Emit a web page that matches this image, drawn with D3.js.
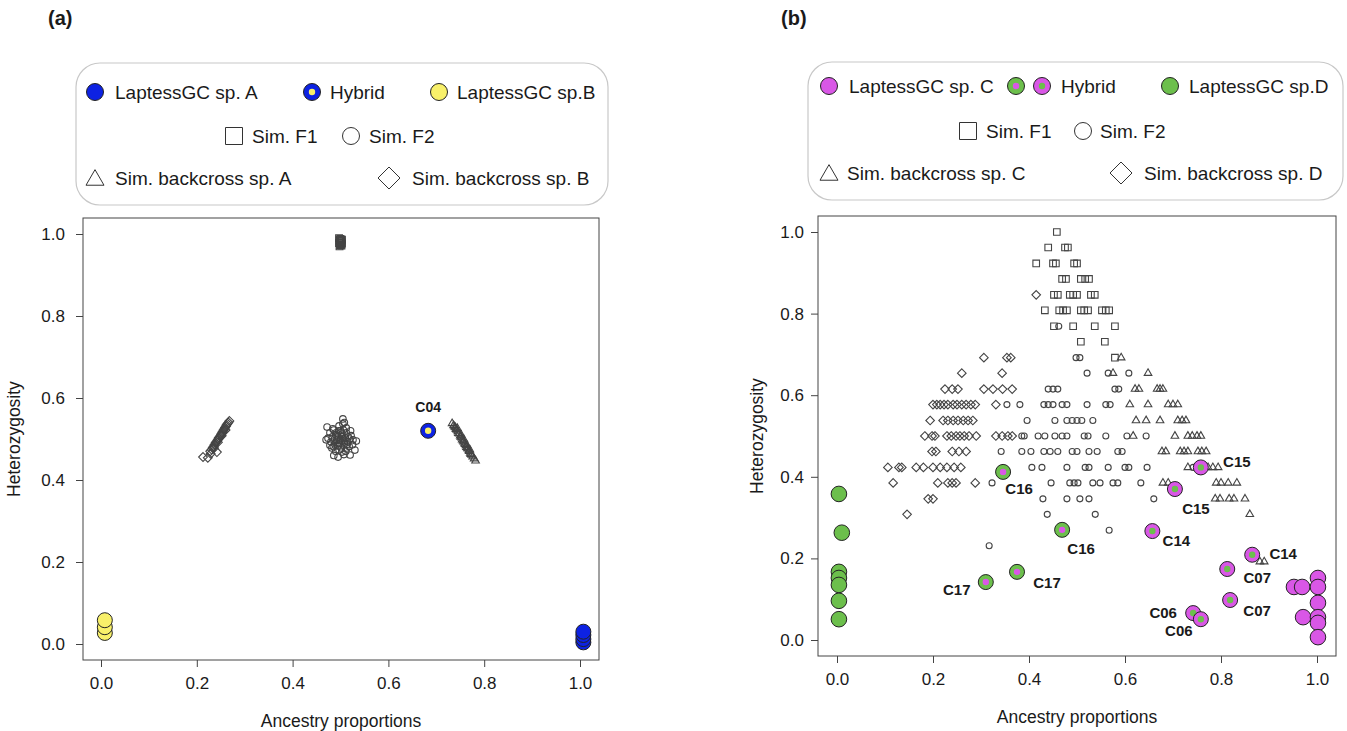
<!DOCTYPE html>
<html>
<head>
<meta charset="utf-8">
<script src="https://cdn.jsdelivr.net/npm/d3@7"></script>
<style>
body { margin: 0; background: #fff; }
text { font-family: "Liberation Sans", Arial, Helvetica, sans-serif; fill: #1a1a1a; }
</style>
</head>
<body>
<div id="chart"></div>
<script>
// ---------- data ----------
var tickValues = [0, 0.2, 0.4, 0.6, 0.8, 1.0];
var xTitle = "Ancestry proportions";
var yTitle = "Heterozygosity";

// panel (a): [ancestry, heterozygosity]
var aSpA = [[1.007, 0.004], [1.007, 0.012], [1.007, 0.022], [1.007, 0.030]];
var aSpB = [[0.008, 0.027], [0.008, 0.041], [0.008, 0.058]];
var aHybrid = [{id: "C04", x: 0.683, y: 0.520}];
var aF1 = [[0.497, 0.990], [0.500, 0.988], [0.503, 0.986], [0.498, 0.984], [0.502, 0.982], [0.500, 0.980],
    [0.497, 0.978], [0.503, 0.977], [0.501, 0.975], [0.499, 0.973], [0.502, 0.972], [0.498, 0.970],
    [0.500, 0.985], [0.501, 0.979], [0.499, 0.987], [0.501, 0.983]];
var aF2 = [[0.472, 0.529], [0.505, 0.549], [0.505, 0.537], [0.482, 0.478], [0.495, 0.456], [0.520, 0.461],
    [0.530, 0.473], [0.526, 0.498], [0.474, 0.502], [0.486, 0.522], [0.490, 0.510], [0.495, 0.505],
    [0.500, 0.500], [0.505, 0.495], [0.510, 0.503], [0.498, 0.490], [0.492, 0.497], [0.503, 0.512],
    [0.508, 0.488], [0.512, 0.515], [0.488, 0.488], [0.515, 0.493], [0.496, 0.520], [0.483, 0.505],
    [0.518, 0.482], [0.502, 0.478], [0.490, 0.470], [0.511, 0.470], [0.522, 0.508], [0.480, 0.493],
    [0.497, 0.532], [0.512, 0.527], [0.486, 0.460], [0.507, 0.462], [0.525, 0.486], [0.478, 0.515],
    [0.494, 0.483], [0.516, 0.505], [0.500, 0.520], [0.533, 0.495], [0.470, 0.498], [0.508, 0.540],
    [0.493, 0.508], [0.499, 0.496], [0.504, 0.506], [0.488, 0.500], [0.509, 0.497], [0.496, 0.488],
    [0.501, 0.515], [0.514, 0.487], [0.491, 0.515], [0.485, 0.482], [0.506, 0.522], [0.519, 0.500],
    [0.497, 0.474], [0.513, 0.478], [0.484, 0.525], [0.521, 0.520], [0.478, 0.485], [0.503, 0.468]];
var aBcA = [[0.733, 0.538], [0.736, 0.533], [0.738, 0.530], [0.740, 0.528], [0.741, 0.524], [0.743, 0.522],
    [0.745, 0.518], [0.746, 0.514], [0.748, 0.513], [0.750, 0.508], [0.751, 0.505], [0.753, 0.503],
    [0.754, 0.498], [0.756, 0.496], [0.757, 0.493], [0.759, 0.490], [0.760, 0.487], [0.762, 0.484],
    [0.763, 0.480], [0.765, 0.478], [0.766, 0.476], [0.768, 0.472], [0.769, 0.470], [0.771, 0.466],
    [0.772, 0.463], [0.774, 0.461], [0.776, 0.457], [0.779, 0.452], [0.782, 0.447], [0.744, 0.526],
    [0.752, 0.510], [0.758, 0.498], [0.764, 0.485], [0.770, 0.474]];
var aBcB = [[0.213, 0.456], [0.223, 0.454], [0.242, 0.468], [0.228, 0.470], [0.231, 0.474], [0.233, 0.478],
    [0.235, 0.482], [0.237, 0.486], [0.239, 0.490], [0.241, 0.493], [0.243, 0.497], [0.245, 0.500],
    [0.246, 0.503], [0.248, 0.506], [0.250, 0.509], [0.251, 0.512], [0.253, 0.515], [0.254, 0.518],
    [0.256, 0.522], [0.258, 0.525], [0.259, 0.528], [0.261, 0.531], [0.262, 0.534], [0.264, 0.537],
    [0.266, 0.540], [0.268, 0.544], [0.236, 0.478], [0.244, 0.492], [0.252, 0.508], [0.260, 0.522],
    [0.229, 0.464]];

// panel (b)
var bSpC = [[0.952, 0.130], [0.969, 0.130], [1.002, 0.152], [1.002, 0.130], [1.002, 0.091],
    [0.971, 0.056], [1.002, 0.056], [1.002, 0.042], [1.002, 0.007]];
var bSpD = [[0.004, 0.358], [0.010, 0.263], [0.004, 0.167], [0.004, 0.152], [0.004, 0.135],
    [0.004, 0.096], [0.004, 0.051]];
// outer = parental colour of the ring
var bHybrid = [
    {id: "C16", x: 0.346, y: 0.412, outer: "D"},
    {id: "C16", x: 0.469, y: 0.270, outer: "D"},
    {id: "C17", x: 0.310, y: 0.142, outer: "D"},
    {id: "C17", x: 0.375, y: 0.167, outer: "D"},
    {id: "C15", x: 0.758, y: 0.423, outer: "C"},
    {id: "C15", x: 0.704, y: 0.370, outer: "C"},
    {id: "C14", x: 0.657, y: 0.267, outer: "C"},
    {id: "C14", x: 0.865, y: 0.209, outer: "C"},
    {id: "C07", x: 0.813, y: 0.174, outer: "C"},
    {id: "C07", x: 0.819, y: 0.098, outer: "C"},
    {id: "C06", x: 0.742, y: 0.066, outer: "C"},
    {id: "C06", x: 0.758, y: 0.051, outer: "C"}
];
var bLabelOffset = [[16, 17], [19, 19], [-29, 8], [30, 11], [36, -6], [21, 20],
    [24, 10], [31, -1], [30, 9], [27, 11], [-30, 0], [-22, 11]];

var bF1 = [[0.458, 1.000],
    [0.440, 0.962], [0.475, 0.962], [0.481, 0.962],
    [0.415, 0.923], [0.450, 0.923], [0.456, 0.923], [0.494, 0.923], [0.500, 0.923],
    [0.469, 0.885], [0.477, 0.885], [0.508, 0.885], [0.517, 0.885], [0.525, 0.885],
    [0.452, 0.846], [0.460, 0.846], [0.485, 0.846], [0.492, 0.846], [0.500, 0.846], [0.529, 0.846], [0.537, 0.846],
    [0.433, 0.808], [0.463, 0.808], [0.471, 0.808], [0.479, 0.808], [0.508, 0.808], [0.515, 0.808], [0.523, 0.808],
    [0.552, 0.808], [0.560, 0.808], [0.567, 0.808],
    [0.452, 0.769], [0.492, 0.769], [0.537, 0.769], [0.579, 0.769],
    [0.508, 0.731], [0.558, 0.731],
    [0.579, 0.692]];
var bF2 = [[0.462, 0.769],
    [0.498, 0.692], [0.506, 0.692],
    [0.521, 0.654], [0.565, 0.654], [0.608, 0.654],
    [0.440, 0.615], [0.450, 0.615], [0.460, 0.615], [0.579, 0.615], [0.587, 0.615],
    [0.354, 0.577], [0.381, 0.577], [0.431, 0.577], [0.440, 0.577], [0.450, 0.577], [0.469, 0.577], [0.479, 0.577],
    [0.521, 0.577], [0.560, 0.577], [0.569, 0.577],
    [0.396, 0.538], [0.454, 0.538], [0.479, 0.538], [0.490, 0.538], [0.500, 0.538], [0.510, 0.538], [0.533, 0.538],
    [0.385, 0.500], [0.390, 0.500], [0.419, 0.500], [0.433, 0.500], [0.454, 0.500], [0.469, 0.500], [0.479, 0.500],
    [0.515, 0.500], [0.523, 0.500], [0.560, 0.500], [0.604, 0.500], [0.644, 0.500],
    [0.342, 0.462], [0.385, 0.462], [0.404, 0.462], [0.431, 0.462], [0.444, 0.462], [0.460, 0.462], [0.490, 0.462],
    [0.500, 0.462], [0.525, 0.462], [0.542, 0.462], [0.585, 0.462], [0.594, 0.462],
    [0.406, 0.423], [0.427, 0.423], [0.479, 0.423], [0.517, 0.423], [0.525, 0.423], [0.565, 0.423], [0.600, 0.423],
    [0.608, 0.423], [0.646, 0.423], [0.742, 0.423],
    [0.323, 0.385], [0.446, 0.385], [0.485, 0.385], [0.494, 0.385], [0.502, 0.385], [0.533, 0.385], [0.548, 0.385],
    [0.575, 0.385], [0.585, 0.385], [0.633, 0.385],
    [0.429, 0.346], [0.479, 0.346], [0.506, 0.346], [0.525, 0.346], [0.660, 0.346],
    [0.438, 0.308], [0.538, 0.308],
    [0.567, 0.269],
    [0.317, 0.231]];
var bBcC = [[0.592, 0.692],
    [0.575, 0.654], [0.648, 0.654],
    [0.621, 0.615], [0.629, 0.615], [0.667, 0.615], [0.673, 0.615], [0.679, 0.615],
    [0.610, 0.577], [0.648, 0.577], [0.690, 0.577], [0.700, 0.577], [0.710, 0.577],
    [0.623, 0.538], [0.644, 0.538], [0.673, 0.538], [0.710, 0.538], [0.719, 0.538], [0.727, 0.538],
    [0.617, 0.500], [0.704, 0.500], [0.731, 0.500], [0.740, 0.500], [0.750, 0.500], [0.758, 0.500],
    [0.677, 0.462], [0.685, 0.462], [0.715, 0.462], [0.723, 0.462], [0.731, 0.462], [0.752, 0.462], [0.760, 0.462],
    [0.769, 0.462],
    [0.731, 0.423], [0.773, 0.423], [0.783, 0.423], [0.794, 0.423],
    [0.679, 0.385], [0.690, 0.385], [0.790, 0.385], [0.800, 0.385], [0.815, 0.385], [0.833, 0.385],
    [0.788, 0.346], [0.798, 0.346], [0.817, 0.346], [0.827, 0.346], [0.850, 0.346],
    [0.860, 0.308],
    [0.881, 0.192], [0.890, 0.192]];
var bBcD = [[0.415, 0.846],
    [0.306, 0.692], [0.354, 0.692], [0.362, 0.692],
    [0.260, 0.654], [0.344, 0.654],
    [0.225, 0.615], [0.240, 0.615], [0.252, 0.615], [0.306, 0.615], [0.325, 0.615], [0.345, 0.615], [0.365, 0.615],
    [0.200, 0.577], [0.208, 0.577], [0.215, 0.577], [0.223, 0.577], [0.231, 0.577], [0.242, 0.577], [0.250, 0.577],
    [0.260, 0.577], [0.269, 0.577], [0.279, 0.577], [0.288, 0.577], [0.331, 0.577],
    [0.194, 0.538], [0.221, 0.538], [0.231, 0.538], [0.242, 0.538], [0.252, 0.538], [0.263, 0.538], [0.273, 0.538],
    [0.283, 0.538],
    [0.183, 0.500], [0.198, 0.500], [0.204, 0.500], [0.229, 0.500], [0.238, 0.500], [0.248, 0.500], [0.256, 0.500],
    [0.265, 0.500], [0.275, 0.500], [0.290, 0.500], [0.331, 0.500], [0.344, 0.500], [0.356, 0.500], [0.365, 0.500],
    [0.198, 0.462], [0.206, 0.462], [0.240, 0.462], [0.254, 0.462], [0.269, 0.462],
    [0.106, 0.423], [0.129, 0.423], [0.135, 0.423], [0.165, 0.423], [0.180, 0.423], [0.200, 0.423], [0.215, 0.423],
    [0.229, 0.423], [0.244, 0.423], [0.258, 0.423],
    [0.117, 0.385], [0.210, 0.385], [0.231, 0.385], [0.240, 0.385], [0.248, 0.385], [0.288, 0.385],
    [0.190, 0.346], [0.200, 0.346],
    [0.146, 0.308]];

// ---------- colours ----------
var blue = "#0d22e3", yellow = "#f8f06a", magenta = "#d957e6", green = "#6cbf4c";
var simStroke = "#444";

var svg = d3.select("#chart").append("svg").attr("width", 1347).attr("height", 731);

// R-like symbols (pch 0, 2, 5) as paths centred on 0,0
function shapePath(shape, s) {
    if (shape === "square") return "M" + (-s) + "," + (-s) + "h" + (2 * s) + "v" + (2 * s) + "h" + (-2 * s) + "Z";
    if (shape === "triangle") return "M0," + (-1.15 * s) + "L" + s + "," + (0.58 * s) + "L" + (-s) + "," + (0.58 * s) + "Z";
    return "M0," + (-s) + "L" + s + ",0L0," + s + "L" + (-s) + ",0Z";
}

// frame, axes and titles for one panel
function makePanel(box, xRange, yRange, yLabPad, yTitleX) {
    var x = d3.scaleLinear().domain([0, 1]).range(xRange);
    var y = d3.scaleLinear().domain([0, 1]).range(yRange);
    var g = svg.append("g");

    g.append("rect").attr("x", box.left).attr("y", box.top).attr("width", box.right - box.left)
        .attr("height", box.bottom - box.top).attr("fill", "none").attr("stroke", "#444").attr("stroke-width", 1);

    var xAxis = d3.axisBottom(x).tickValues(tickValues).tickFormat(d3.format(".1f")).tickSize(7).tickPadding(10);
    g.append("g").attr("transform", "translate(0," + box.bottom + ")").call(xAxis)
        .call(function (a) { a.select(".domain").remove(); });
    var yAxis = d3.axisLeft(y).tickValues(tickValues).tickFormat(d3.format(".1f")).tickSize(7).tickPadding(yLabPad);
    g.append("g").attr("transform", "translate(" + box.left + ",0)").call(yAxis)
        .call(function (a) { a.select(".domain").remove(); });
    g.selectAll(".tick line").attr("stroke", "#444");
    g.selectAll(".tick text").attr("font-size", 17).attr("fill", "#222")
        .attr("font-family", "'Liberation Sans', Arial, sans-serif");

    g.append("text").attr("x", (box.left + box.right) / 2).attr("y", box.bottom + 67)
        .attr("text-anchor", "middle").attr("font-size", 17.5).text(xTitle);
    // centred on yTitleX (dy shifts the baseline half a line)
    g.append("text").attr("transform", "translate(" + yTitleX + "," + ((box.top + box.bottom) / 2) + ") rotate(-90)")
        .attr("text-anchor", "middle").attr("dy", "0.35em").attr("font-size", 17.5).text(yTitle);
    return {x: x, y: y, g: g};
}

function drawSim(p, data, shape, s) {
    if (shape === "circle") {
        p.g.selectAll(null).data(data).enter().append("circle")
            .attr("cx", function (d) { return p.x(d[0]); }).attr("cy", function (d) { return p.y(d[1]); })
            .attr("r", s).attr("fill", "none").attr("stroke", simStroke).attr("stroke-width", 1.1);
    } else {
        p.g.selectAll(null).data(data).enter().append("path")
            .attr("d", shapePath(shape, s))
            .attr("transform", function (d) { return "translate(" + p.x(d[0]) + "," + p.y(d[1]) + ")"; })
            .attr("fill", "none").attr("stroke", simStroke).attr("stroke-width", 1.1);
    }
}

function drawDots(p, data, fill, r) {
    p.g.selectAll(null).data(data).enter().append("circle")
        .attr("cx", function (d) { return p.x(d[0]); }).attr("cy", function (d) { return p.y(d[1]); })
        .attr("r", r).attr("fill", fill).attr("stroke", "#222").attr("stroke-width", 1);
}

// legend: rounded box plus rows of {shape, fill, inner, x, text}
function drawLegend(box, rows) {
    svg.append("rect").attr("x", box.x).attr("y", box.y).attr("width", box.w).attr("height", box.h)
        .attr("rx", 24).attr("fill", "#fff").attr("stroke", "#c8c8c8").attr("stroke-width", 1.2);
    rows.forEach(function (row) {
        row.items.forEach(function (it) {
            if (it.shape === "dot") {
                svg.append("circle").attr("cx", it.x).attr("cy", row.y).attr("r", 8.5)
                    .attr("fill", it.fill).attr("stroke", "#222");
                if (it.inner) svg.append("circle").attr("cx", it.x).attr("cy", row.y).attr("r", 3.2).attr("fill", it.inner);
            } else if (it.shape === "circle") {
                svg.append("circle").attr("cx", it.x).attr("cy", row.y).attr("r", 8.5).attr("fill", "none").attr("stroke", "#333");
            } else if (it.shape) {
                var s = it.shape === "diamond" ? 11 : (it.shape === "triangle" ? 9 : 8.5);
                svg.append("path").attr("d", shapePath(it.shape, s)).attr("transform", "translate(" + it.x + "," + (row.y + (it.shape === "triangle" ? 2 : 0)) + ")")
                    .attr("fill", "none").attr("stroke", "#333");
            }
            if (it.text) svg.append("text").attr("x", it.tx).attr("y", row.y).attr("dy", "0.36em")
                .attr("font-size", 19).text(it.text);
        });
    });
}

// ---------- panel (a) ----------
svg.append("text").attr("x", 48).attr("y", 25).attr("font-size", 20).attr("font-weight", "bold").text("(a)");
drawLegend({x: 76, y: 63, w: 532, h: 142}, [
    {y: 92, items: [{shape: "dot", fill: blue, x: 95, tx: 115, text: "LaptessGC sp. A"},
        {shape: "dot", fill: blue, inner: yellow, x: 312, tx: 330, text: "Hybrid"},
        {shape: "dot", fill: yellow, x: 439, tx: 457, text: "LaptessGC sp.B"}]},
    {y: 136, items: [{shape: "square", x: 234, tx: 252, text: "Sim. F1"},
        {shape: "circle", x: 351, tx: 369, text: "Sim. F2"}]},
    {y: 178, items: [{shape: "triangle", x: 95, tx: 115, text: "Sim. backcross sp. A"},
        {shape: "diamond", x: 389, tx: 412, text: "Sim. backcross sp. B"}]}
]);

var pa = makePanel({left: 83, right: 599, top: 218, bottom: 660}, [101, 580], [644, 234], 11, 14);
drawSim(pa, aF2, "circle", 3.3);
drawSim(pa, aF1, "square", 3.4);
drawSim(pa, aBcA, "triangle", 3.8);
drawSim(pa, aBcB, "diamond", 4.4);
drawDots(pa, aSpB, yellow, 7.5);
drawDots(pa, aSpA, blue, 7.5);
pa.g.selectAll(null).data(aHybrid).enter().append("circle")
    .attr("cx", function (d) { return pa.x(d.x); }).attr("cy", function (d) { return pa.y(d.y); })
    .attr("r", 7.5).attr("fill", blue).attr("stroke", "#222");
pa.g.selectAll(null).data(aHybrid).enter().append("circle")
    .attr("cx", function (d) { return pa.x(d.x); }).attr("cy", function (d) { return pa.y(d.y); })
    .attr("r", 3.2).attr("fill", yellow);
pa.g.selectAll(null).data(aHybrid).enter().append("text")
    .attr("x", function (d) { return pa.x(d.x); }).attr("y", function (d) { return pa.y(d.y) - 19; })
    .attr("text-anchor", "middle").attr("font-size", 14).attr("font-weight", "bold").text(function (d) { return d.id; });

// ---------- panel (b) ----------
svg.append("text").attr("x", 781).attr("y", 25).attr("font-size", 20).attr("font-weight", "bold").text("(b)");
drawLegend({x: 808, y: 62, w: 535, h: 138}, [
    {y: 86, items: [{shape: "dot", fill: magenta, x: 829, tx: 849, text: "LaptessGC sp. C"},
        {shape: "dot", fill: green, inner: magenta, x: 1016, tx: 0},
        {shape: "dot", fill: magenta, inner: green, x: 1042, tx: 1061, text: "Hybrid"},
        {shape: "dot", fill: green, x: 1170, tx: 1189, text: "LaptessGC sp.D"}]},
    {y: 131, items: [{shape: "square", x: 968, tx: 986, text: "Sim. F1"},
        {shape: "circle", x: 1083, tx: 1100, text: "Sim. F2"}]},
    {y: 173, items: [{shape: "triangle", x: 829, tx: 847, text: "Sim. backcross sp. C"},
        {shape: "diamond", x: 1121, tx: 1144, text: "Sim. backcross sp. D"}]}
]);

var pb = makePanel({left: 818, right: 1336, top: 216, bottom: 656}, [837, 1317], [640, 232], 7, 757);
drawSim(pb, bF2, "circle", 3.0);
drawSim(pb, bF1, "square", 3.3);
drawSim(pb, bBcC, "triangle", 3.8);
drawSim(pb, bBcD, "diamond", 4.3);
drawDots(pb, bSpD, green, 7.8);
drawDots(pb, bSpC, magenta, 7.8);

var hyb = pb.g.selectAll(null).data(bHybrid).enter().append("g")
    .attr("transform", function (d) { return "translate(" + pb.x(d.x) + "," + pb.y(d.y) + ")"; });
hyb.append("circle").attr("r", 7.5).attr("stroke", "#222")
    .attr("fill", function (d) { return d.outer === "D" ? green : magenta; });
hyb.append("circle").attr("r", 3.2)
    .attr("fill", function (d) { return d.outer === "D" ? magenta : green; });
hyb.append("text")
    .attr("x", function (d, i) { return bLabelOffset[i][0]; })
    .attr("y", function (d, i) { return bLabelOffset[i][1]; })
    .attr("dy", "0.36em").attr("text-anchor", "middle").attr("font-size", 15).attr("font-weight", "bold")
    .text(function (d) { return d.id; });
</script>
</body>
</html>
